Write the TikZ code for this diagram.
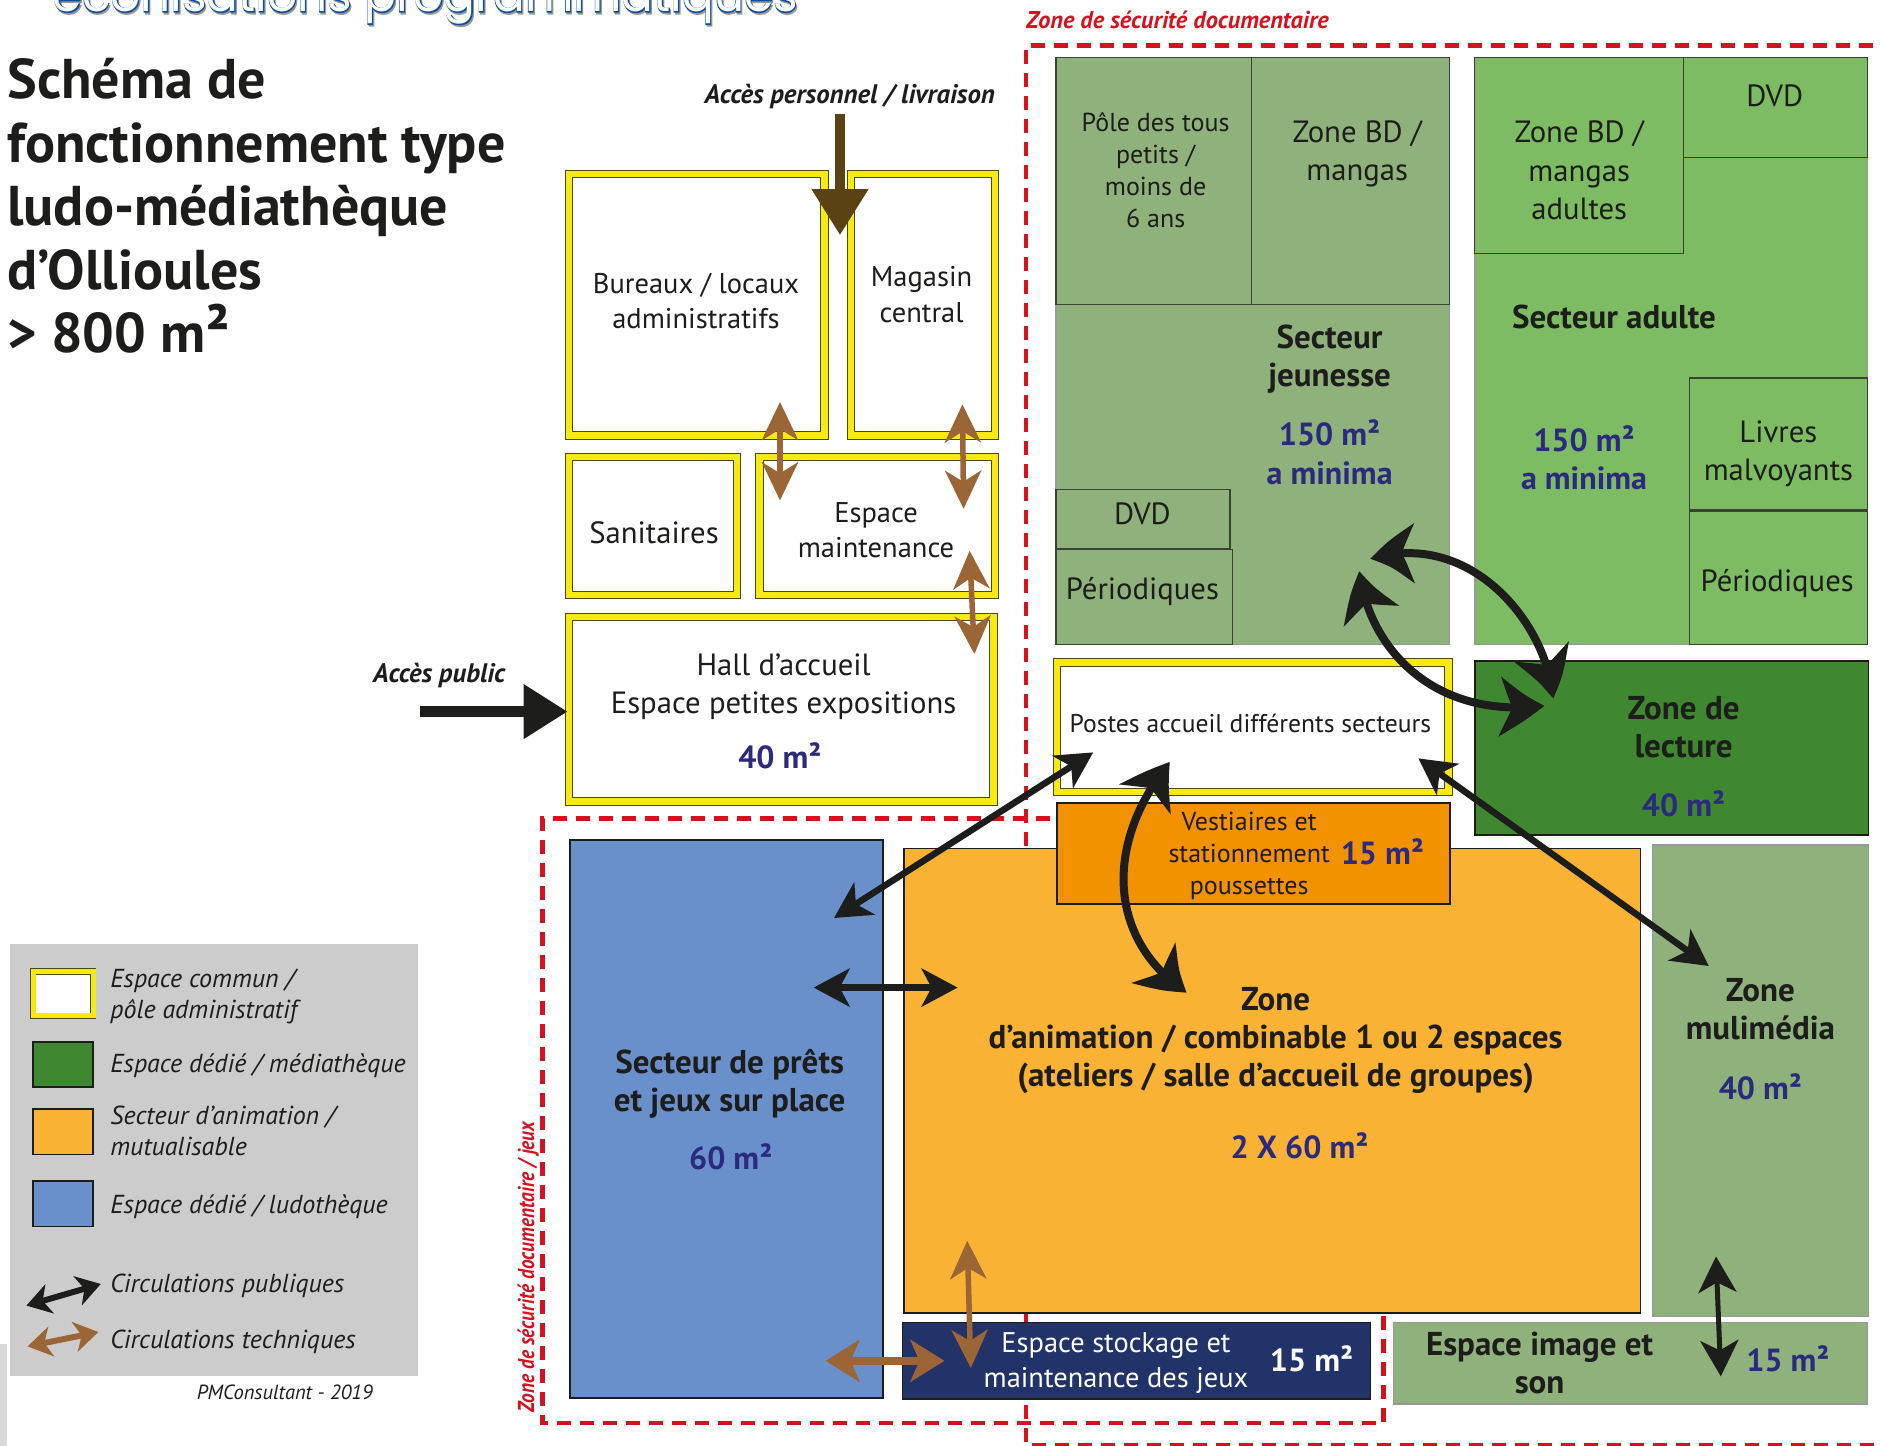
\documentclass[tikz,border=0pt]{standalone}
\usepackage{fontspec}
\usepackage{graphicx}
\setmainfont{PT Sans}
\newfontfamily\titleheavy[FakeBold=3]{Poppins}
\newfontfamily\titlelight{Poppins}
\usetikzlibrary{arrows.meta,bending}
\definecolor{ink}{HTML}{1D1D1B}
\definecolor{framey}{HTML}{F7EA10}
\definecolor{jeune}{HTML}{8FB27C}
\definecolor{adulte}{HTML}{7EBC63}
\definecolor{media}{HTML}{3F8730}
\definecolor{orgd}{HTML}{F39200}
\definecolor{orgl}{HTML}{F9B233}
\definecolor{bleu}{HTML}{6A90CC}
\definecolor{marine}{HTML}{213368}
\definecolor{navytxt}{HTML}{2B2A7E}
\definecolor{rouge}{HTML}{D7121F}
\definecolor{brun}{HTML}{9C6536}
\definecolor{brunf}{HTML}{5A4213}
\definecolor{gris}{HTML}{CCCCCC}
\definecolor{titleblue}{HTML}{0B4EA2}
\tikzset{
 ybox/.style={draw=ink!80!yellow,line width=.9pt,double=framey,double distance=6.5pt,fill=white},
 darkbox/.style={draw=ink,line width=1.8pt},
 greybox/.style={draw=ink!45,line width=1.4pt},
 subbox/.style={draw=ink!75!jeune,line width=1.2pt},
 zone/.style={draw=rouge,line width=4.5pt,dash pattern=on 14pt off 9pt},
 txt/.style={inner sep=0,outer sep=0,align=center,text=ink,font=\fontsize{30.7}{38.2}\selectfont},
 txtb/.style={txt,font=\fontsize{28.5}{35.4}\selectfont},
 small/.style={txt,font=\fontsize{26}{32}\selectfont},
 head/.style={txt,font=\bfseries\fontsize{33}{38}\selectfont},
 area/.style={txt,text=navytxt,font=\bfseries\fontsize{32}{38.5}\selectfont},
 leg/.style={inner sep=0,outer sep=0,anchor=base west,align=left,text=ink,font=\itshape\fontsize{26}{31.5}\selectfont},
 ital/.style={inner sep=0,outer sep=0,text=ink,font=\bfseries\itshape\fontsize{26.8}{30}\selectfont},
 blkarrow/.style={draw=ink,line width=8pt,{Stealth[length=46pt,width=58pt,inset=13pt,bend]}-{Stealth[length=46pt,width=58pt,inset=13pt,bend]}},
 blkthin/.style={draw=ink,line width=6.5pt,{Stealth[length=36pt,width=38pt,inset=10pt]}-{Stealth[length=36pt,width=38pt,inset=10pt]}},
 brnarrow/.style={draw=brun,line width=5.5pt,{Stealth[length=38pt,width=36pt,inset=11pt]}-{Stealth[length=38pt,width=36pt,inset=11pt]}},
 brnthick/.style={draw=brun,line width=8pt,{Stealth[length=34pt,width=42pt,inset=9pt]}-{Stealth[length=34pt,width=42pt,inset=9pt]}},
 access/.style={line width=10.5pt,-{Stealth[length=44pt,width=52pt,inset=0pt]}},
}
\newcommand\rbox[6]{%
 \pgfmathsetmacro\bw{(#5-#3)*1.2}\pgfmathsetmacro\bh{(#6-#4)*1.2}%
 \node[#1,anchor=north west,minimum width=\bw pt,minimum height=\bh pt,inner sep=0pt,outer sep=0pt] (#2) at (#3,#4) {};}
\begin{document}
\begin{tikzpicture}[x=1.2pt,y=-1.2pt]
\useasboundingbox (0,0) rectangle (1567.5,1205);
\clip (0,0) rectangle (1567.5,1205);
% page remnant
\fill[gray!30] (0,1120) rectangle (6,1205);
% truncated heading
\node[anchor=base east,inner sep=0,text=black!40,font=\titleheavy\fontsize{47}{50}\selectfont] (hshadow) at (666,11.5) {econisations programmatiques};
\node[anchor=base east,inner sep=0,text=titleblue,font=\titleheavy\fontsize{47}{50}\selectfont] (hblue) at (665,10) {econisations programmatiques};
\node[anchor=base east,inner sep=0,text=white,font=\titlelight\fontsize{47}{50}\selectfont] (hwhite) at (665,10) {econisations programmatiques};
% security zones
\draw[zone] (855,705) -- (855,38) -- (1575,38);
\draw[zone] (855,1094) -- (855,1204) -- (1575,1204);
\draw[zone] (875,682) -- (452,682) -- (452,1186) -- (1153,1186) -- (1153,1094);
\node[anchor=base west,inner sep=0,text=rouge,font=\bfseries\itshape\fontsize{24.3}{26}\selectfont] (zsec) at (855,24) {Zone de sécurité documentaire};
\node[anchor=base,rotate=90,inner sep=0,text=rouge,font=\bfseries\itshape\fontsize{23}{26}\selectfont] (zsecj) at (445,1056) {\scalebox{.84}[1]{Zone de sécurité documentaire / jeux}};
% main title
\node[anchor=base west,inner sep=0,align=left,text=ink,font=\bfseries\fontsize{56}{63.6}\selectfont] (titre) at (6,294) {Schéma de\\fonctionnement type\\ludo-médiathèque\\d’Ollioules\\> 800 m{\fontsize{60}{63.6}\selectfont²}};
% administrative block
\rbox{ybox}{bureaux}{474}{145}{687}{363}
\rbox{ybox}{magasin}{709}{145}{829}{363}
\rbox{ybox}{sanit}{474}{381}{614}{496}
\rbox{ybox}{maint}{633}{381}{829}{496}
\rbox{ybox}{hall}{474}{514}{828}{668}
\rbox{ybox}{postes}{881}{552}{1207}{660}
% jeunesse
\rbox{fill=jeune,greybox}{jeunesse}{880}{48}{1208}{537}
\rbox{subbox}{pole}{880}{48}{1043}{254}
\rbox{subbox}{bdj}{1043}{48}{1208}{254}
\rbox{subbox}{dvdj}{880}{408}{1025}{457}
\rbox{subbox}{perj}{880}{458}{1027}{537}
% adulte
\rbox{fill=adulte,greybox}{adult}{1229}{48}{1556}{537}
\rbox{subbox}{bda}{1229}{48}{1403}{211}
\rbox{subbox}{dvda}{1403}{48}{1556}{131}
\rbox{subbox}{livres}{1408}{315}{1556}{425}
\rbox{subbox}{pera}{1408}{426}{1556}{537}
% others
\rbox{fill=media,darkbox}{lecture}{1229}{551}{1557}{696}
\rbox{fill=orgl,darkbox}{anim}{753}{707}{1367}{1094}
\rbox{fill=orgd,darkbox}{vest}{881}{669}{1208}{753}
\rbox{fill=jeune,greybox}{multi}{1377}{704}{1557}{1097}
\rbox{fill=bleu,darkbox}{prets}{475}{700}{736}{1165}
\rbox{fill=marine,darkbox}{stock}{752}{1102}{1142}{1166}
\rbox{fill=jeune,greybox}{image}{1161}{1102}{1556}{1170}
% labels
\node[txtb] (tbur) at (580,251) {Bureaux / locaux\\administratifs};
\node[txtb] (tmag) at (768,245.5) {Magasin\\central};
\node[txt] (tsan) at (545,444) {Sanitaires};
\node[txtb] (tmai) at (730,442) {Espace\\maintenance};
\node[txt] (thal) at (653,572.5) {Hall d’accueil\\Espace petites expositions};
\node[area] (ahal) at (650,630) {40 m²};
\node[txt,font=\fontsize{25.6}{30}\selectfont] (tpos) at (1042,603) {Postes accueil différents secteurs};
\node[small] (tpol) at (963,142) {Pôle des tous\\petits /\\moins de\\6 ans};
\node[txt] (tbdj) at (1131,128.5) {Zone BD /\\mangas};
\node[head] (tjeu) at (1108,299) {Secteur\\jeunesse};
\node[area] (ajeu) at (1108,377) {150 m²\\a minima};
\node[txt] (tdvj) at (952,428) {DVD};
\node[txt] (tpej) at (952,493) {Périodiques};
\node[txt] (tbda) at (1316,142) {Zone BD /\\mangas\\adultes};
\node[txt] (tdva) at (1479,80) {DVD};
\node[head] (tadu) at (1345,264) {Secteur adulte};
\node[area] (aadu) at (1320,381.5) {150 m²\\a minima};
\node[txt] (tliv) at (1482,378) {Livres\\malvoyants};
\node[txt] (tpea) at (1481,486) {Périodiques};
\node[head] (tlec) at (1403,606) {Zone de\\lecture};
\node[area] (alec) at (1403,670) {40 m²};
\node[small] (tves) at (1041,713) {Vestiaires et\\stationnement\\poussettes};
\node[area] (aves) at (1152,710) {15 m²};
\node[head] (tani) at (1063,867.5) {Zone\\d’animation / combinable 1 ou 2 espaces\\(ateliers / salle d’accueil de groupes)};
\node[area] (aani) at (1083,955) {2 X 60 m²};
\node[head] (tmul) at (1467,841) {Zone\\mulimédia};
\node[area] (amul) at (1467,906) {40 m²};
\node[head] (tpre) at (608,903) {Secteur de prêts\\et jeux sur place};
\node[area] (apre) at (609,964) {60 m²};
\node[txt,text=white,font=\fontsize{28.4}{34.5}\selectfont] (tsto) at (930,1136) {Espace stockage et\\maintenance des jeux};
\node[area,text=white] (asto) at (1093,1132) {15 m²};
\node[head] (tima) at (1283,1136) {Espace image et\\son};
\node[area] (aima) at (1490,1132) {15 m²};
\node[ital,anchor=base east] (lpers) at (829,86) {Accès personnel / livraison};
\node[ital,anchor=base east] (lpub) at (421,569) {Accès public};
% legend
\fill[gris] (8.5,787) rectangle (348.5,1147);
\rbox{ybox,line width=.7pt,double distance=5pt}{lg1}{27.5}{809.5}{77.5}{846.5}
\rbox{fill=media,darkbox}{lg2}{27.5}{868}{77.5}{906}
\rbox{fill=orgl,darkbox}{lg3}{27.5}{924}{77.5}{962}
\rbox{fill=bleu,darkbox}{lg4}{27.5}{984}{77.5}{1022}
\node[leg] (l1) at (92,849) {Espace commun /\\pôle administratif};
\node[leg] (l2) at (92,894) {Espace dédié / médiathèque};
\node[leg] (l3) at (92,963) {Secteur d’animation /\\mutualisable};
\node[leg] (l4) at (92,1011) {Espace dédié / ludothèque};
\node[leg] (l5) at (92,1077) {Circulations publiques};
\node[leg] (l6) at (92,1124) {Circulations techniques};
\node[leg,font=\itshape\fontsize{20.5}{25}\selectfont] (lpm) at (164,1166) {PMConsultant - 2019};
% connector ends
\coordinate (p1) at (700,95); \coordinate (p2) at (700,196);
\coordinate (q1) at (350,593); \coordinate (q2) at (473,593);
\coordinate (b1) at (650,335); \coordinate (b2) at (650,417);
\coordinate (b3) at (802,337); \coordinate (b4) at (803,424);
\coordinate (b5) at (808,459); \coordinate (b6) at (812,545);
\coordinate (b7) at (806,1034); \coordinate (b8) at (809,1140);
\coordinate (b9) at (688,1134); \coordinate (b10) at (787,1134);
\coordinate (k1) at (678,823); \coordinate (k2) at (798,823);
\coordinate (k3) at (911,627); \coordinate (k4) at (695,765);
\coordinate (k5) at (975,635); \coordinate (k6) at (989,827);
\coordinate (k7) at (1142,466); \coordinate (k8) at (1294,582);
\coordinate (k9) at (1133,476); \coordinate (k10) at (1287,588);
\coordinate (k11) at (1182,632); \coordinate (k12) at (1424,805);
\coordinate (k13) at (1430,1047); \coordinate (k14) at (1434,1147);
\coordinate (lk1) at (22,1088); \coordinate (lk2) at (84,1070);
\coordinate (lb1) at (23,1122); \coordinate (lb2) at (82,1110);
% connectors
\draw[access,draw=brunf,-{Stealth[length=46pt,width=54pt,inset=0pt]}] (p1) -- (p2);
\draw[access,draw=ink] (q1) -- (q2);
\draw[brnarrow] (b1) -- (b2);
\draw[brnarrow] (b3) -- (b4);
\draw[brnarrow] (b5) -- (b6);
\draw[brnarrow] (b7) -- (b8);
\draw[brnthick] (b9) -- (b10);
\draw[blkthin] (k1) -- (k2);
\draw[blkthin] (k3) -- (k4);
\draw[blkarrow] (k5) .. controls (918,705) and (925,785) .. (k6);
\draw[blkarrow] (k7) .. controls (1225,440) and (1290,520) .. (k8);
\draw[blkarrow] (k9) .. controls (1140,540) and (1195,600) .. (k10);
\draw[blkthin] (k11) -- (k12);
\draw[blkthin,line width=5pt] (k13) -- (k14);
\draw[draw=ink,line width=6pt,{Stealth[length=24pt,width=30pt,inset=7pt]}-{Stealth[length=24pt,width=30pt,inset=7pt]}] (lk1) -- (lk2);
\draw[draw=brun,line width=6pt,{Stealth[length=24pt,width=30pt,inset=7pt]}-{Stealth[length=24pt,width=30pt,inset=7pt]}] (lb1) -- (lb2);
\end{tikzpicture}
\end{document}
